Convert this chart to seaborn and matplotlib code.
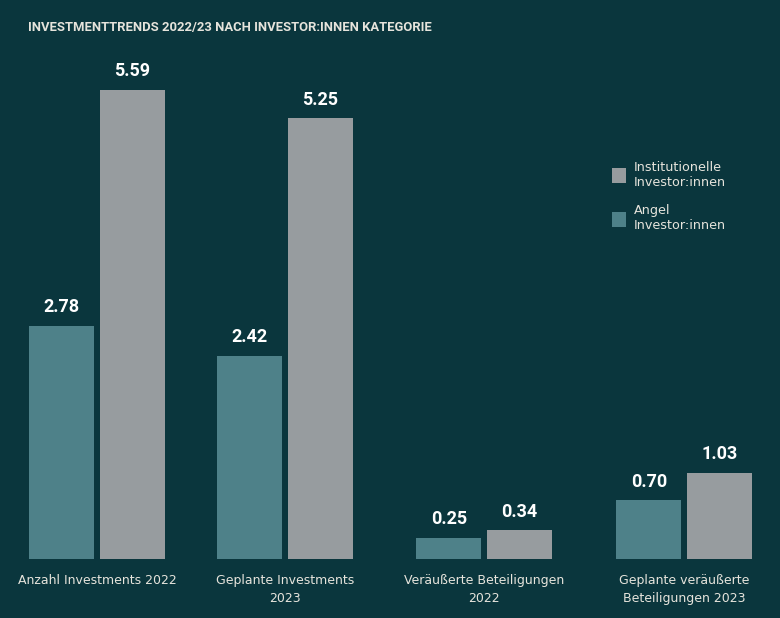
import matplotlib
matplotlib.use("Agg")
import matplotlib.pyplot as plt
import pandas as pd
import seaborn as sns
from matplotlib.patches import Patch

# Data
categories = ["Anzahl Investments 2022", "Geplante Investments\n2023",
              "Veräußerte Beteiligungen\n2022", "Geplante veräußerte\nBeteiligungen 2023"]
angel = [2.78, 2.42, 0.25, 0.70]
institutionell = [5.59, 5.25, 0.34, 1.03]
series_names = ["Angel\nInvestor:innen", "Institutionelle\nInvestor:innen"]

# group positions (groups are not evenly spaced in the original)
group_pos = [0, 0.961, 1.978, 3.0]

bg = "#0a363d"
teal = "#4e8189"
grey = "#979c9f"
txt = "#e6e4dc"

df = pd.DataFrame({
    "pos": group_pos * 2,
    "value": angel + institutionell,
    "series": [series_names[0]] * 4 + [series_names[1]] * 4,
})

sns.set_style("white")
plt.rcParams["font.family"] = ["DejaVu Sans"]
bold_font = ["Roboto", "DejaVu Sans"]

fig = plt.figure(figsize=(7.8, 6.18), dpi=100, facecolor=bg)
ax = fig.add_axes([0, 0.0955, 1, 0.9045])
ax.set_facecolor(bg)

sns.barplot(data=df, x="pos", y="value", hue="series", native_scale=True,
            hue_order=series_names, palette=[teal, grey], width=0.72 / 0.961,
            gap=0.075, saturation=1, linewidth=0, ax=ax, legend=False)

for cont in ax.containers:
    ax.bar_label(cont, fmt="%.2f", padding=7, color="white", fontsize=13,
                 fontweight="bold", family=bold_font)

ax.set_xlim(-0.496, 3.49)
ax.set_ylim(0, 6.66)
ax.set_xticks(group_pos)
ax.set_xticklabels(categories)
ax.set_xlabel("")
ax.set_ylabel("")
ax.set_yticks([])
ax.tick_params(axis="x", length=0, pad=11, labelsize=9, labelcolor=txt)
for lab in ax.get_xticklabels():
    lab.set_linespacing(1.5)
for s in ax.spines.values():
    s.set_visible(False)

handles = [Patch(facecolor=grey, linewidth=0), Patch(facecolor=teal, linewidth=0)]
ax.legend(handles, [series_names[1], series_names[0]], loc="upper left",
          bbox_to_anchor=(0.77, 0.758), bbox_transform=fig.transFigure,
          frameon=False, fontsize=9.2, labelcolor=txt, handlelength=1.1,
          handleheight=1.4, handletextpad=0.6, labelspacing=1.2)

fig.text(0.036, 0.955, "INVESTMENTTRENDS 2022/23 NACH INVESTOR:INNEN KATEGORIE",
         color=txt, fontsize=9.4, fontweight="bold", family=bold_font,
         va="center", ha="left")

fig.savefig("out.png", dpi=100, facecolor=bg)
